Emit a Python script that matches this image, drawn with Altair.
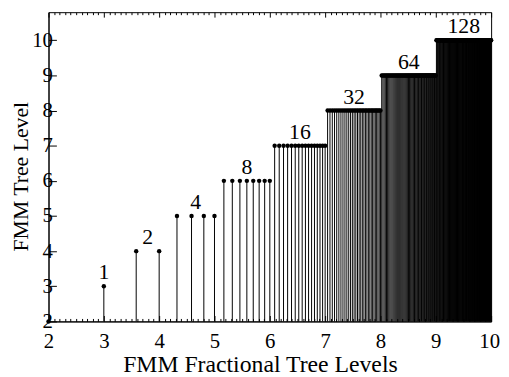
import math
import altair as alt
import pandas as pd

# FMM tree levels and the number of boxes (stems) at each level
tree_levels = [2, 3, 4, 5, 6, 7, 8, 9, 10]
boxes_per_level = [1, 1, 2, 4, 8, 16, 32, 64, 128]

x_major = [2, 3, 4, 5, 6, 7, 8, 9, 10]
x_minor = [round(2 + i * 0.1, 1) for i in range(81)]
y_major = [2, 3, 4, 5, 6, 7, 8, 9, 10]

# fractional tree level of the n-th box: log2(4 n)
frac, lvl = [], []
n = 0
for L, c in zip(tree_levels, boxes_per_level):
    for _ in range(c):
        n += 1
        frac.append(math.log2(4 * n))
        lvl.append(L)

df = pd.DataFrame({"frac": frac, "level": lvl, "floor": [2] * len(frac)})

FONT = "Liberation Serif"
is_major = "abs(datum.value - round(datum.value)) < 0.001"

xscale = alt.Scale(domain=[2, 10], nice=False, zero=False)
yscale = alt.Scale(domain=[2, 10.8], nice=False, zero=False)

x_bottom = alt.Axis(
    values=x_minor,
    title="FMM Fractional Tree Levels",
    labelExpr=f"{is_major} ? format(datum.value, 'd') : ''",
    tickSize={"condition": {"test": is_major, "value": -6}, "value": -3},
    labelOffset={"condition": {"test": "datum.value > 9.5", "value": -2}, "value": 0},
    labelOverlap=False,
    labelFlush=False,
    labelFontSize=21,
    labelPadding=15,
    titleBaseline="alphabetic",
    titleFontSize=24,
    titleX=214,
    titleY=51,
    grid=False,
)
x_top = alt.Axis(
    orient="top",
    values=x_minor,
    labels=False,
    domain=False,
    title=None,
    tickSize={"condition": {"test": is_major, "value": -5}, "value": -2.5},
    grid=False,
)
y_left = alt.Axis(
    values=y_major,
    title="FMM Tree Level",
    tickSize={"expr": "-8"},
    labelPadding=4,
    labelFontSize=21,
    labelOverlap=False,
    labelFlush=False,
    titleBaseline="alphabetic",
    titleFontSize=22,
    titleX=-21,
    titleY=166,
    grid=False,
)

base = alt.Chart(df)

stems = base.mark_rule(color="black", strokeWidth=1).encode(
    x=alt.X("frac:Q", scale=xscale, axis=x_bottom),
    y=alt.Y("floor:Q", scale=yscale, axis=y_left),
    y2="level:Q",
)

dots = base.mark_circle(size=20, color="black", opacity=1).encode(
    x=alt.X("frac:Q", scale=xscale, axis=None),
    y=alt.Y("level:Q", scale=yscale, axis=y_left),
)

labels = (
    base.transform_filter("datum.level > 2")
    .transform_aggregate(
        xmin="min(frac)", xmax="max(frac)", count="count()", groupby=["level"]
    )
    .transform_calculate(mid="(datum.xmin + datum.xmax) / 2")
    .mark_text(font=FONT, fontSize=22, baseline="alphabetic", dy=-7, color="black")
    .encode(
        x=alt.X("mid:Q", scale=xscale, axis=x_top),
        y=alt.Y("level:Q", scale=yscale, axis=y_left),
        text=alt.Text("count:Q"),
    )
)

chart = (
    alt.layer(stems, dots, labels)
    .resolve_axis(x="independent")
    .properties(
        width=448,
        height=313,
        autosize=alt.AutoSizeParams(type="none"),
        padding={"left": 41, "top": 2, "right": 10, "bottom": 53},
    )
    .configure_view(stroke="black", strokeWidth=1)
    .configure_axis(
        domainColor="black",
        domainWidth=1,
        tickColor="black",
        tickWidth=1,
        labelFont=FONT,
        labelColor="black",
        titleFont=FONT,
        titleFontWeight="normal",
        titleColor="black",
    )
)

chart.save("out.html", embed_options={"renderer": "svg", "actions": False})
